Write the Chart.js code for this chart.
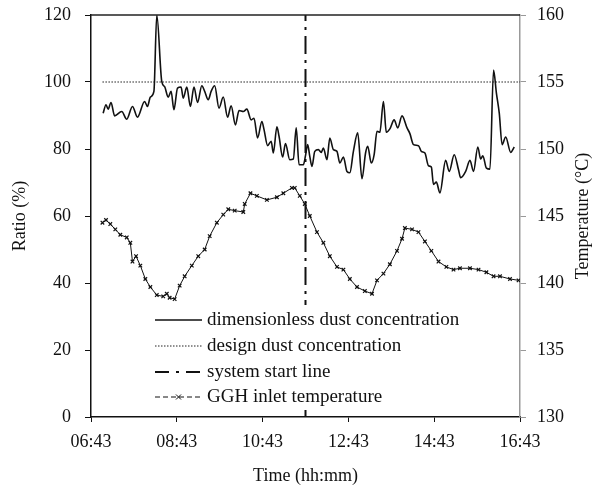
<!DOCTYPE html>
<html>

<head>
  <title>Dust concentration and GGH inlet temperature</title>
  <script src="https://cdn.jsdelivr.net/npm/chart.js"></script>
  <style>
    body { margin: 0; background: #fff; }
  </style>
</head>

<body>
  <div style="width:600px;height:489px;"><canvas id="myChart"></canvas></div>
  <script>
    // time axis: minutes after 06:43
    const tickLabels = ['06:43', '08:43', '10:43', '12:43', '14:43', '16:43'];

    const dustTime = [17, 21, 24, 28, 33, 43, 50, 58, 65, 75, 79, 83, 88, 92, 99, 103, 108, 112, 116, 121,
      126, 129, 134, 139, 144, 149, 155, 159, 164, 168, 173, 179, 185, 191, 196, 202, 207, 213, 218, 224,
      228, 233, 239, 242, 247, 252, 255, 260, 263, 268, 272, 278, 283, 287, 291, 297, 300, 303, 306, 309,
      313, 318, 322, 325, 330, 334, 339, 344, 348, 353, 358, 362, 367, 373, 379, 384, 387, 392, 396, 400,
      404, 409, 413, 418, 424, 429, 435, 442, 446, 451, 458, 462, 467, 472, 476, 479, 483, 488, 496, 501,
      508, 514, 517, 524, 530, 535, 541, 545, 548, 553, 558, 563, 567, 571, 575, 580, 587, 592];
    const dustRatio = [90.7, 93.2, 91.9, 93.9, 89.9, 91.2, 88.9, 92.7, 89.5, 94.2, 92.7, 95.5, 97.2, 120, 100.1, 98.6, 95.5, 97.2, 91.7, 98.2,
      98.5, 95.2, 98.5, 92.7, 98.5, 93.9, 98.9, 97.2, 94.7, 97.2, 98.9, 92.2, 95.5, 89.5, 92.9, 87.2, 91.5, 91.2, 91.9, 88.7,
      89.2, 83.3, 88.2, 85.8, 81.0, 82.3, 78.8, 86.6, 83.8, 77.6, 81.6, 76.8, 77.0, 86.3, 75.3, 75.3, 78.0, 81.3, 77.8, 74.8,
      79.3, 79.8, 79.0, 80.3, 76.8, 83.3, 79.8, 79.3, 75.8, 77.6, 73.3, 72.9, 79.3, 84.8, 71.1, 78.8, 80.8, 75.8, 78.3, 85.3,
      85.0, 94.2, 85.0, 86.0, 88.7, 86.3, 89.9, 86.3, 84.6, 81.3, 81.0, 79.3, 78.8, 75.0, 74.6, 69.4, 70.1, 66.9, 76.6, 73.3,
      78.3, 73.8, 71.4, 73.3, 76.6, 73.3, 80.6, 77.0, 78.0, 74.3, 74.0, 103.6, 96.7, 90.7, 81.3, 83.6, 79.0, 80.6];

    const tempTime = [16, 21, 27, 34, 41, 50, 55, 58, 63, 69, 76, 83, 92, 101, 106, 110, 117, 124, 131, 141,
      150, 159, 166, 176, 185, 192, 201, 213, 215, 223, 232, 246, 260, 269, 281, 285, 292, 299, 306, 316,
      325, 334, 344, 353, 362, 372, 383, 393, 400, 409, 418, 428, 435, 439, 449, 458, 467, 476, 486, 497,
      507, 516, 530, 542, 553, 563, 572, 586, 598];
    const tempValue = [144.5, 144.7, 144.4, 144.0, 143.6, 143.4, 143.0, 141.6, 142.0, 141.3, 140.3, 139.7, 139.1, 139.0, 139.2, 138.9, 138.8, 139.8, 140.5, 141.3,
      142.0, 142.5, 143.5, 144.5, 145.1, 145.5, 145.4, 145.3, 145.9, 146.7, 146.5, 146.2, 146.4, 146.7, 147.1, 147.1, 146.5, 145.9, 145.0, 143.8,
      143.0, 142.0, 141.2, 141.0, 140.3, 139.7, 139.4, 139.2, 140.2, 140.7, 141.4, 142.4, 143.3, 144.1, 144.0, 143.8, 143.1, 142.4, 141.6, 141.2,
      141.0, 141.1, 141.1, 141.0, 140.8, 140.5, 140.5, 140.3, 140.2];

    const designTime = [16, 600];
    const designRatio = [100, 100];
    const startTime = [300, 300];
    const startRatio = [0, 120];

    const pairs = (xs, ys) => xs.map((x, i) => ({ x: x, y: ys[i] }));

    Chart.defaults.font.family = '"Liberation Serif", "Times New Roman", serif';
    Chart.defaults.font.size = 18;
    Chart.defaults.color = '#111';

    // top frame line, right axis title (reads upward) and legend inside the plot
    const frameLegend = {
      id: 'frameLegend',
      afterDraw(chart) {
        const ctx = chart.ctx;
        const area = chart.chartArea;
        ctx.save();
        ctx.strokeStyle = '#222';
        ctx.lineWidth = 1.5;
        ctx.beginPath();
        ctx.moveTo(area.left, area.top);
        ctx.lineTo(area.right, area.top);
        ctx.stroke();

        ctx.font = '18px "Liberation Serif", serif';
        ctx.fillStyle = '#111';
        ctx.textAlign = 'center';
        ctx.textBaseline = 'middle';
        ctx.save();
        ctx.translate(583, (area.top + area.bottom) / 2);
        ctx.rotate(-Math.PI / 2);
        ctx.fillText('Temperature (°C)', 0, 0);
        ctx.restore();

        // legend box (white, covers the start line)
        ctx.fillStyle = '#fff';
        ctx.fillRect(150, 305, 320, 105);

        const rows = [320, 346, 372, 397];
        const x0 = 155, x1 = 202;
        ctx.font = '19px "Liberation Serif", serif';
        ctx.textAlign = 'left';
        ctx.fillStyle = '#111';
        chart.data.datasets.forEach((ds, i) => {
          const y = rows[i];
          ctx.strokeStyle = ds.borderColor;
          ctx.lineWidth = ds.borderWidth;
          ctx.setLineDash(ds.legendDash || ds.borderDash || []);
          ctx.beginPath();
          ctx.moveTo(x0, y);
          ctx.lineTo(x1, y);
          ctx.stroke();
          ctx.setLineDash([]);
          if (ds.pointRadius > 0) {
            const cx = (x0 + x1) / 2;
            ctx.beginPath();
            ctx.moveTo(cx - 2.5, y - 2.5); ctx.lineTo(cx + 2.5, y + 2.5);
            ctx.moveTo(cx + 2.5, y - 2.5); ctx.lineTo(cx - 2.5, y + 2.5);
            ctx.stroke();
          }
          ctx.fillText(ds.label, x1 + 5, y);
        });
        ctx.restore();
      }
    };

    const ctx = document.getElementById('myChart').getContext('2d');
    const chart = new Chart(ctx, {
      type: 'line',
      data: {
        datasets: [{
          label: 'dimensionless dust concentration',
          data: pairs(dustTime, dustRatio),
          borderColor: '#111',
          borderWidth: 1.6,
          pointRadius: 0,
          cubicInterpolationMode: 'monotone',
          yAxisID: 'y'
        }, {
          label: 'design dust concentration',
          data: pairs(designTime, designRatio),
          borderColor: '#222',
          borderWidth: 1,
          borderDash: [1.5, 1.5],
          pointRadius: 0,
          yAxisID: 'y'
        }, {
          label: 'system start line',
          data: pairs(startTime, startRatio),
          borderColor: '#111',
          borderWidth: 2,
          borderDash: [18, 6, 3, 6],
          legendDash: [14, 7, 3, 7],
          pointRadius: 0,
          yAxisID: 'y'
        }, {
          label: 'GGH inlet temperature',
          data: pairs(tempTime, tempValue),
          borderColor: '#111',
          borderWidth: 1,
          legendDash: [5, 3],
          pointStyle: 'crossRot',
          pointRadius: 2.5,
          pointBorderWidth: 1.2,
          yAxisID: 'y2'
        }]
      },
      options: {
        animation: false,
        responsive: true,
        maintainAspectRatio: false,
        layout: { padding: { top: 15, left: 0, right: 0, bottom: 0 } },
        plugins: {
          legend: { display: false },
          tooltip: { enabled: false }
        },
        scales: {
          x: {
            type: 'linear',
            min: 0,
            max: 600,
            afterFit: function (scale) { scale.height = 72; },
            afterBuildTicks: function (scale) {
              scale.ticks = tickLabels.map((t, i) => ({ value: i * 120 }));
            },
            ticks: {
              padding: 9,
              maxRotation: 0,
              callback: function (value) { return tickLabels[Math.round(value / 120)]; }
            },
            grid: { drawOnChartArea: false, tickLength: 5, tickColor: '#111' },
            border: { color: '#111', width: 1.5 },
            title: { display: true, text: 'Time (hh:mm)', padding: { top: 0, bottom: 2 } }
          },
          y: {
            position: 'left',
            min: 0,
            max: 120,
            afterFit: function (scale) { scale.width = 91; scale.paddingTop = 0; scale.paddingBottom = 0; },
            ticks: { stepSize: 20, padding: 14 },
            grid: { drawOnChartArea: false, tickLength: 6, tickColor: '#111' },
            border: { color: '#111', width: 1.5 },
            title: { display: true, text: 'Ratio (%)', padding: { top: 9, bottom: 0 } }
          },
          y2: {
            position: 'right',
            min: 130,
            max: 160,
            afterFit: function (scale) { scale.width = 80; scale.paddingTop = 0; scale.paddingBottom = 0; },
            ticks: { stepSize: 5, padding: 11 },
            grid: { drawOnChartArea: false, tickLength: 6, tickColor: '#999' },
            border: { color: '#999', width: 1.5 },
            title: { display: false }
          }
        }
      },
      plugins: [frameLegend]
    });
  </script>
</body>

</html>
